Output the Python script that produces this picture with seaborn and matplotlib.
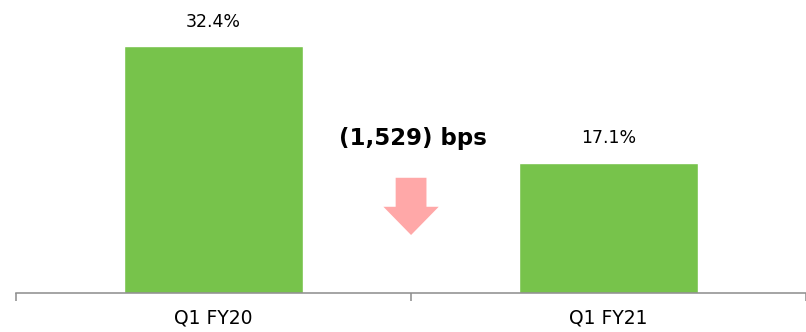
import matplotlib
matplotlib.use("Agg")
import matplotlib.pyplot as plt
import seaborn as sns
import pandas as pd

# data
periods = ["Q1 FY20", "Q1 FY21"]
margins = [32.4, 17.1]
value_labels = ["32.4%", "17.1%"]
change_label = "(1,529) bps"

df = pd.DataFrame({"Period": periods, "Margin": margins})

sns.set_style("white")
plt.rcParams["font.family"] = ["DejaVu Sans"]

fig = plt.figure(figsize=(8.06, 3.32), dpi=100)
ax = fig.add_axes([0.02, 0.1175, 0.98, 0.8825])

sns.barplot(data=df, x="Period", y="Margin", color="#77C34B", width=0.455,
            saturation=1, ax=ax)

ax.set_xlim(-0.5, 1.5)
ax.set_ylim(0, 38.4)

# value labels
for i, (v, lab) in enumerate(zip(margins, value_labels)):
    ax.text(i, v + 2.0, lab, ha="center", va="bottom", fontsize=12.5, color="black")

# change annotation + arrow
ax.text(0.505, 20.3, change_label, ha="center", va="center", fontsize=16.5,
        fontweight="bold", color="black")
ax.arrow(0.5, 15.1, 0, -7.5, width=0.078, head_width=0.14, head_length=3.7,
         length_includes_head=True, color="#FFA8A8", ec="none")

# axes styling
for s in ["top", "right", "left"]:
    ax.spines[s].set_visible(False)
ax.spines["bottom"].set_color("#8c8c8c")
ax.spines["bottom"].set_linewidth(1.1)
ax.set_yticks([])
ax.set_xlabel("")
ax.set_ylabel("")

ax.set_xticks([0, 1])
ax.set_xticklabels(periods, fontsize=13.5, color="black")
ax.tick_params(axis="x", length=0, pad=11)
ax.set_xticks([-0.5, 0.5, 1.5], minor=True)
ax.tick_params(axis="x", which="minor", length=6, width=1.1, color="#8c8c8c",
               bottom=True)

fig.savefig("out.png", dpi=100)
